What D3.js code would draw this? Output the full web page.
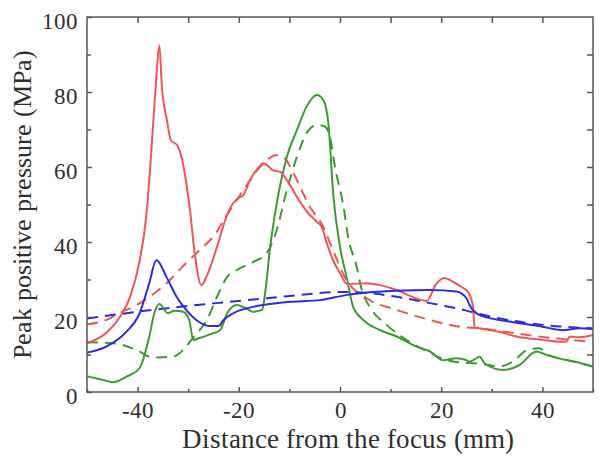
<!DOCTYPE html>
<html><head><meta charset="utf-8">
<script src="https://cdn.jsdelivr.net/npm/d3@7"></script>
<style>
@font-face{font-family:"ChartSerif";src:local("Liberation Serif"),local("LiberationSerif"),local("Times New Roman"),local("Tinos");}
</style>
</head><body style="margin:0"><svg id="c" width="601" height="461"></svg>
<script>
const xTicks = [-40,-20,0,20,40];
const yTicks = [0,20,40,60,80,100];

const redSolidX = [-50,-46,-43.5,-41.5,-39.6,-38.3,-37.3,-36.4,-35.7,-35.2,-34.2,-33.4,-32.3,-31.2,-30.3,-29.6,-28.8,-27.4,-26.4,-25.6,-23.7,-22.7,-21.1,-20.1,-19.1,-17.8,-16.2,-15.2,-14.4,-13.4,-11.8,-10.5,-8.5,-6.5,-4.5,-3.6,-2.6,-1.4,0,1.4,5.3,7.9,11.2,14.4,17.1,19.1,20.7,22.3,24,25.3,26.3,26.6,27.6,31.6,34.8,40,43.4,44.7,45.4,47.3,50];
const redSolidY = [13,16,20,25.3,35,46.7,64,82,92.5,81.4,72.5,67,66,62,55,48,38,28.5,30.7,33.4,41.4,45.8,50.4,51.7,52.5,56.5,59.7,61,60.5,59.2,58.7,56.5,52,48,45.3,44,39.7,35.2,31.7,28.8,29,28.5,27.2,25.3,24.3,29,30.4,29.4,28,26.7,22.7,17.3,17,16,14.8,13.9,13.4,13.4,14.8,14.6,15.2];

const redDashX = [-50,-46,-43.6,-40.2,-37,-34.3,-30.4,-27.6,-24.5,-23,-19.1,-15.8,-12.4,-11.2,-9.2,-7.9,-5.9,-3.3,-1.4,0,1,5.3,11.2,17.8,24.3,27.6,33,40,45,50];
const redDashY = [18,19.3,21,23.2,26,29,34.4,38,42.4,45.8,53.8,60,63.2,62.7,58.4,54.7,49.3,44,37.9,33.4,30.5,25,21.9,19.2,17.3,17,16,14.7,14,13.3];

const blueSolidX = [-50,-46.2,-42.2,-39.6,-37.7,-36.3,-34.3,-32.3,-30.4,-28.4,-25.8,-24,-23,-21.1,-17.2,-10.5,-3.9,1.4,4.5,11.2,17.8,23,25,25.6,27.6,33.5,40,44,47.3,50];
const blueSolidY = [10.5,12.1,16.1,21,29,35.2,30.7,25.4,21.9,19.2,17.6,17.6,19.2,21,22.7,24,24.5,25.9,26.4,27,27.2,26.8,25,23.2,20.5,18.8,17.4,16.5,17,16.8];

const blueDashX = [-50,-37,-24.5,-14.4,1.4,4.5,11.2,17.8,25,27.6,40,50];
const blueDashY = [19.6,21.9,23.7,25,26.7,26.5,25.4,23.7,21.7,20.8,17.9,17];

const greenSolidX = [-50,-46.8,-44.8,-42.2,-39.6,-37.7,-36.7,-35.7,-34,-32.7,-31,-29.8,-29,-27.8,-25,-23.7,-22.3,-20.4,-18.7,-17.2,-15.4,-14.8,-13.8,-12.5,-10.5,-8.5,-6.6,-4.6,-3.3,-2.3,-1.3,0,1.3,2.6,4.6,7.9,11.2,15.1,17.8,20.4,23,25,25.6,27.6,28.6,32.2,35.5,38.8,40.8,44.7,47.3,50];
const greenSolidY = [4.2,3.2,2.6,4.1,6.4,14.7,21,23.5,21,21.7,21.4,19.2,13.9,14.4,15.7,16.5,21,23.2,22.4,21.4,21.9,26.4,38.7,50.3,62.7,69.9,76.1,79.2,77.9,71.6,52.1,38.7,30.7,22.7,19.2,16.5,14.8,12.1,10.8,8.5,9,8.5,8.1,9.4,7.6,5.9,7.2,10.8,9.9,8.5,7.8,6.8];

const greenDashX = [-50,-44.8,-40.2,-37,-33,-31,-28.9,-26.3,-24.3,-22.3,-20.4,-17.1,-14.5,-12.5,-10.5,-8.5,-6.6,-4.6,-3,-2,-1,0.7,1.6,3.3,4.3,5.9,9.2,13.1,17,20,23,28,31.6,34.1,37,39.4,41,45,50];
const greenDashY = [13.3,13,11.2,9.2,9.4,11.2,14.7,19.2,25.4,30.7,32.5,34.7,37,43.2,53.9,62.7,69,71.2,70.8,68.1,60.1,49.4,41.4,33.4,27.2,22.7,17.9,13.9,11,9,8,7.5,6.8,8.1,11.2,11.7,10,8.5,6.8];

const series = [
  {x: greenDashX, y: greenDashY, color: "#3f9a35", dash: "11,7"},
  {x: redDashX, y: redDashY, color: "#f25555", dash: "11,7"},
  {x: blueDashX, y: blueDashY, color: "#2b2be0", dash: "11,7"},
  {x: greenSolidX, y: greenSolidY, color: "#3f9a35", dash: null},
  {x: redSolidX, y: redSolidY, color: "#f25555", dash: null},
  {x: blueSolidX, y: blueSolidY, color: "#2b2be0", dash: null},
];

const svg = d3.select("#c");
const L = 87, R = 593, T = 17, B = 392;
const x = d3.scaleLinear().domain([-50, 50]).range([L, R]);
const y = d3.scaleLinear().domain([0, 100]).range([B, T]);
const axisColor = "#555";
const FONT = '"ChartSerif", "Liberation Serif", "Times New Roman", Tinos, serif';
const txtColor = "#2e2e2e";

svg.append("clipPath").attr("id","clp").append("rect")
  .attr("x", L).attr("y", T).attr("width", R-L).attr("height", B-T);

const line = d3.line().x(d => x(d[0])).y(d => y(d[1])).curve(d3.curveMonotoneX);
const plot = svg.append("g").attr("clip-path","url(#clp)");
series.forEach(s => {
  const pts = s.x.map((v,i) => [v, s.y[i]]);
  plot.append("path").attr("d", line(pts)).attr("fill","none")
    .attr("stroke", s.color).attr("stroke-width", 2)
    .attr("stroke-dasharray", s.dash).attr("stroke-linejoin","round");
});

const minorX = d3.range(-50, 51, 10);
const minorY = d3.range(0, 101, 10);
function styleAxis(sel){
  sel.attr("font-family", null).attr("font-size", null);
  sel.select(".domain").remove();
  sel.selectAll("line").attr("stroke", axisColor).attr("stroke-width", 1.5);
  sel.selectAll("text").style("font-family", FONT).style("font-size", "23px").attr("fill", txtColor);
}
const axB = svg.append("g").attr("transform", `translate(0,${B})`)
  .call(d3.axisBottom(x).tickValues(minorX).tickSize(-5).tickPadding(10)
    .tickFormat(d => xTicks.includes(d) ? d : ""));
styleAxis(axB);
axB.selectAll(".tick").filter(d => !xTicks.includes(d)).select("line").attr("y2", -3);
const axT = svg.append("g").attr("transform", `translate(0,${T})`)
  .call(d3.axisTop(x).tickValues(minorX.filter(d=>d>-50&&d<50)).tickSize(-6).tickFormat(""));
styleAxis(axT);
const axL = svg.append("g").attr("transform", `translate(${L},0)`)
  .call(d3.axisLeft(y).tickValues(minorY).tickSize(-5).tickPadding(9)
    .tickFormat(d => yTicks.includes(d) ? d : ""));
styleAxis(axL);
axL.selectAll("text").attr("dy", "0.5em");
axL.selectAll(".tick").filter(d => !yTicks.includes(d)).select("line").attr("x2", 4);
const axR = svg.append("g").attr("transform", `translate(${R},0)`)
  .call(d3.axisRight(y).tickValues(minorY.filter(d=>d>0&&d<100)).tickSize(-6).tickFormat(""));
styleAxis(axR);

svg.append("rect").attr("x", L).attr("y", T).attr("width", R-L).attr("height", B-T)
  .attr("fill","none").attr("stroke", axisColor).attr("stroke-width", 1.5);

svg.append("text").attr("x", 348).attr("y", 448).attr("text-anchor","middle")
  .style("font-family", FONT).style("font-size", "26.5px").attr("fill", txtColor)
  .text("Distance from the focus (mm)");
svg.append("text").attr("transform", `translate(31,204) rotate(-90)`)
  .attr("text-anchor","middle").style("font-family", FONT).style("font-size", "26px").attr("fill", txtColor)
  .text("Peak positive pressure (MPa)");
</script></body></html>
